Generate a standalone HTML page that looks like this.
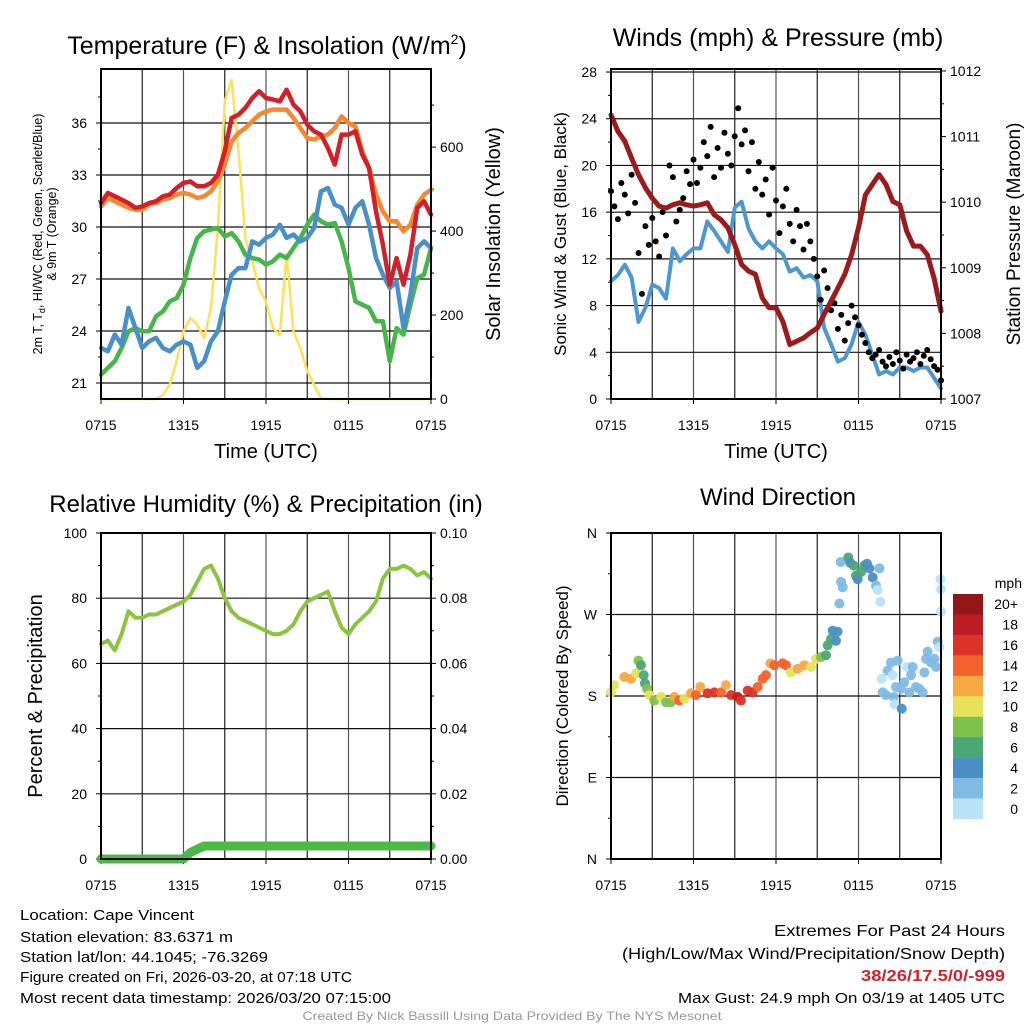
<!DOCTYPE html>
<html><head><meta charset="utf-8"><style>
html,body{margin:0;padding:0;background:#fff;width:1024px;height:1024px;overflow:hidden}
svg{display:block;font-family:"Liberation Sans",Arial,sans-serif}
</style></head><body>
<svg id="c" width="1024" height="1024" viewBox="0 0 1024 1024" xmlns="http://www.w3.org/2000/svg">
<g font-size="24" text-anchor="middle">
<text x="267" y="54" font-size="25">Temperature (F) &amp; Insolation (W/m<tspan font-size="14" dy="-10">2</tspan><tspan dy="10">)</tspan></text>
<text x="778" y="46" font-size="25">Winds (mph) &amp; Pressure (mb)</text>
<text x="266" y="512">Relative Humidity (%) &amp; Precipitation (in)</text>
<text x="778" y="505">Wind Direction</text>
</g>
<g font-size="20" text-anchor="middle">
<text x="266" y="458">Time (UTC)</text>
<text x="776" y="458">Time (UTC)</text>
</g>
<text transform="translate(42,234) rotate(-90)" font-size="12.5" text-anchor="middle">2m T, T<tspan font-size="9" dy="3">d</tspan><tspan dy="-3">, HI/WC (Red, Green, Scarlet/Blue)</tspan></text>
<text transform="translate(56,234) rotate(-90)" font-size="12.5" text-anchor="middle">&amp; 9m T (Orange)</text>
<text transform="translate(500,234) rotate(-90)" font-size="20" text-anchor="middle">Solar Insolation (Yellow)</text>
<text transform="translate(566,234) rotate(-90)" font-size="17" text-anchor="middle">Sonic Wind &amp; Gust (Blue, Black)</text>
<text transform="translate(1020,234) rotate(-90)" font-size="19" text-anchor="middle">Station Pressure (Maroon)</text>
<text transform="translate(42,696) rotate(-90)" font-size="20" text-anchor="middle">Percent &amp; Precipitation</text>
<text transform="translate(568,696) rotate(-90)" font-size="17" text-anchor="middle">Direction (Colored By Speed)</text>
<g font-size="15">
<text x="20" y="920" textLength="174" lengthAdjust="spacingAndGlyphs">Location: Cape Vincent</text>
<text x="20" y="942" textLength="213" lengthAdjust="spacingAndGlyphs">Station elevation: 83.6371 m</text>
<text x="20" y="962" textLength="248" lengthAdjust="spacingAndGlyphs">Station lat/lon: 44.1045; -76.3269</text>
<text x="20" y="982" textLength="332" lengthAdjust="spacingAndGlyphs">Figure created on Fri, 2026-03-20, at 07:18 UTC</text>
<text x="20" y="1003" textLength="371" lengthAdjust="spacingAndGlyphs">Most recent data timestamp: 2026/03/20 07:15:00</text>
</g>
<g font-size="16" text-anchor="end">
<text x="1005" y="936" textLength="231" lengthAdjust="spacingAndGlyphs">Extremes For Past 24 Hours</text>
<text x="1005" y="959" textLength="383" lengthAdjust="spacingAndGlyphs">(High/Low/Max Wind/Precipitation/Snow Depth)</text>
<text x="1005" y="981" font-weight="bold" fill="#d0222a" textLength="144" lengthAdjust="spacingAndGlyphs">38/26/17.5/0/-999</text>
<text x="1005" y="1003" font-size="15" textLength="327" lengthAdjust="spacingAndGlyphs">Max Gust: 24.9 mph On 03/19 at 1405 UTC</text>
</g>
<text x="512" y="1020" font-size="12" fill="#999" text-anchor="middle" textLength="419" lengthAdjust="spacingAndGlyphs">Created By Nick Bassill Using Data Provided By The NYS Mesonet</text>
</svg>
<script>
// ---- data (half-hourly from 0715 UTC, 49 points) ----
const xTickLabels = ["0715","1315","1915","0115","0715"];
const tempRed = [31.38,31.96,31.77,31.58,31.38,31.1,31.19,31.38,31.48,31.77,31.87,32.25,32.54,32.63,32.35,32.35,32.54,33.02,34.37,36.29,36.48,36.87,37.44,37.83,37.44,37.35,37.25,37.92,37.06,36.67,35.9,35.52,35.33,34.56,33.6,35.33,35.33,35.52,34.17,33.4,30.9,28.98,26.67,28.21,26.67,28.4,31.1,31.48,30.71];
const temp9m = [31.19,31.67,31.48,31.29,31.1,31.0,31.0,31.29,31.38,31.58,31.67,31.87,31.96,31.87,31.67,31.77,32.06,32.63,33.6,34.94,35.42,35.71,36.1,36.48,36.67,36.77,36.77,36.77,36.29,35.71,35.13,35.04,35.23,35.33,35.71,36.38,36.0,35.81,34.37,33.4,31.87,30.9,30.33,30.33,29.75,30.13,31.29,31.87,32.15];
const dewpoint = [21.48,21.87,22.25,23.02,23.98,24.17,23.98,23.98,24.85,25.13,25.71,25.9,26.67,28.21,29.37,29.75,29.85,29.94,29.46,29.65,29.17,28.4,28.21,28.12,27.83,28.02,28.4,28.21,28.79,29.37,30.13,30.71,30.33,30.13,30.23,29.17,27.63,25.71,25.52,25.33,24.56,24.56,22.25,24.17,23.79,25.52,27.06,27.25,28.79];
const windChill = [23.02,22.83,23.79,23.21,25.33,24.17,23.02,23.4,23.6,23.02,22.83,23.21,23.4,23.21,21.87,22.25,23.4,23.98,25.71,27.25,27.63,27.63,29.17,28.98,29.37,29.56,30.13,29.37,29.56,29.17,29.37,29.94,32.06,32.25,31.29,31.1,30.13,31.1,31.48,30.13,28.21,27.25,26.48,26.87,24.17,26.1,28.79,29.17,28.79];
const solar = [0,0,0,0,0,0,0,0,0,10,34,90,161,193,177,145,217,407,709,760,590,383,328,264,232,169,153,344,161,121,66,34,2,0,0,0,0,0,0,0,0,0,0,0,0,0,0,0,0];
const tempTicks = [21,24,27,30,33,36];
const solarTicks = [0,200,400,600];
const windSpeed = [10.1,10.6,11.5,10.4,6.6,7.8,9.8,9.5,8.6,12.9,11.8,12.4,12.9,12.9,15.2,14.4,13.5,12.6,16.4,16.9,14.6,13.5,12.9,13.5,12.9,12.4,10.9,11.2,10.4,10.6,10.1,6.1,4.7,3.2,3.5,4.7,6.6,5.5,3.8,2.1,2.4,2.1,2.7,2.7,2.4,2.7,2.7,1.8,0.9];
const pressure = [1011.33,1011.08,1010.93,1010.67,1010.42,1010.22,1010.06,1009.94,1009.91,1009.96,1009.99,1009.96,1009.94,1009.96,1009.99,1009.81,1009.73,1009.61,1009.35,1009.05,1008.95,1008.9,1008.54,1008.39,1008.39,1008.18,1007.83,1007.88,1007.93,1008.01,1008.08,1008.29,1008.49,1008.69,1008.9,1009.2,1009.61,1010.11,1010.27,1010.42,1010.27,1010.01,1009.96,1009.56,1009.33,1009.33,1009.2,1008.84,1008.34];
// gusts every 15 minutes (97 points)
const gusts = [17.8,16.5,15.4,18.5,17.5,15.9,19.2,16.8,12.5,9.0,14.8,13.2,15.5,13.5,12.2,16.0,14.0,20.0,19.0,15.2,16.2,17.2,19.5,18.4,20.5,18.5,19.8,22.0,20.8,23.3,19.0,21.5,19.8,22.8,21.0,20.0,22.5,24.9,21.8,23.0,19.5,22.0,18.0,20.3,17.5,18.8,15.8,19.8,17.0,14.2,16.5,18.0,15.0,13.5,16.2,14.8,12.8,15.0,13.5,12.0,10.5,8.5,11.0,9.5,7.6,8.2,6.0,7.2,5.0,6.5,8.0,7.0,6.3,5.5,4.8,4.0,3.5,3.8,4.2,3.2,2.8,3.6,3.0,4.0,3.3,2.6,3.8,3.2,3.5,4.0,3.0,3.7,4.2,3.4,2.8,2.5,1.6];
const windTicks = [0,4,8,12,16,20,24,28];
const pressureTicks = [1007,1008,1009,1010,1011,1012];
const rh = [66,67,64,69,76,74,74,75,75,76,77,78,79,81,85,89,90,86,80,76,74,73,72,71,70,69,69,70,72,76,79,80,81,82,76,71,69,72,74,76,79,86,89,89,90,89,87,88,86];
const precip = [0,0,0,0,0,0,0,0,0,0,0,0,0,0.002,0.003,0.004,0.004,0.004,0.004,0.004,0.004,0.004,0.004,0.004,0.004,0.004,0.004,0.004,0.004,0.004,0.004,0.004,0.004,0.004,0.004,0.004,0.004,0.004,0.004,0.004,0.004,0.004,0.004,0.004,0.004,0.004,0.004,0.004,0.004];
const rhTicks = [0,20,40,60,80,100];
const precipTicks = ["0.00","0.02","0.04","0.06","0.08","0.10"];
// wind direction observations
const dirHours = [0,0.24,0.97,1.45,1.82,1.99,2.18,2.38,2.47,2.62,2.79,3.15,3.64,4.0,4.36,4.61,4.97,5.33,5.82,6.18,6.5,7.03,7.52,8.0,8.36,8.73,9.21,9.45,9.94,10.3,10.67,11.03,11.27,11.59,11.88,12.48,12.73,13.09,13.58,14.06,14.55,14.91,15.27,15.64,15.76,16.0,16.12,16.48,16.36,16.61,16.73,16.85,16.7,17.26,17.41,17.65,17.82,17.94,18.18,18.42,18.62,18.79,19.03,19.27,19.39,19.52,19.59,19.68,19.76,20.0,20.12,20.36,20.48,20.56,20.61,20.73,20.85,21.09,21.14,21.33,21.53,21.7,21.82,21.94,22.18,22.42,22.67,22.79,22.91,23.03,23.27,23.52,23.64,23.76,23.88,23.95,24.0,24.0];
const dirDeg = [184,192,201,199,205,219,214,203,194,188,181,175,179,173,173,179,175,177,183,181,190,183,184,184,192,181,179,175,186,184,190,199,203,216,214,216,214,206,210,214,212,221,223,225,236,243,252,251,241,282,306,300,328,333,327,324,313,309,317,324,326,321,311,302,297,321,284,199,184,181,208,217,203,179,171,190,219,188,166,195,212,184,203,212,190,188,184,206,221,229,217,221,212,240,234,309,298,273];
const dirSpeed = [11,11,13,13,11,9,7,7,7,9,11,9,11,9,9,13,15,11,13,15,13,17,17,15,13,17,19,17,17,17,15,15,15,13,15,15,15,11,13,13,11,11,9,7,7,7,5,5,5,3,3,3,3,7,5,7,7,5,7,7,5,5,5,3,1,3,1,1,3,3,3,3,1,3,1,3,3,3,5,3,1,3,3,3,3,3,3,3,3,3,3,3,3,3,1,1,1,1];
const speedBinLabels = ["20+","18","16","14","12","10","8","6","4","2","0"];
const speedBinColors = ["#931619","#bc1c24","#dd3228","#f2622b","#f7a843","#e8e15a","#7cc24d","#4aa873","#4a8fc4","#80bbe5","#b9e4f8"];
const dirTicks = ["N","E","S","W","N"];

const NS="http://www.w3.org/2000/svg";
const svg=document.getElementById('c');
function mk(tag,attrs,parent){const e=document.createElementNS(NS,tag);for(const k in attrs)e.setAttribute(k,attrs[k]);(parent||svg).appendChild(e);return e;}
function panel(x0,x1,y0,y1){return {x0,x1,y0,y1,xs:h=>x0+h/24*(x1-x0)};}
function lin(vmin,vmax,y0,y1){return v=>y1-(v-vmin)/(vmax-vmin)*(y1-y0);}
const P1=panel(101,431,69,399), P2=panel(611,941,69,399), P3=panel(101,431,533,859), P4=panel(611,941,533,859);
const yT=lin(20.077,39.115,69,399), yS=lin(0,786,69,399);
const yW=lin(0,28.26,69,399), yP=lin(1007,1012.03,69,399);
const yR=lin(0,100,533,859), yPr=lin(0,0.1,533,859);
const yD=lin(0,360,533,859);

function frame(P,name){
  const g=mk('g',{});
  
  
  for(let h=3;h<24;h+=3){const x=P.xs(h);
    const l=mk('line',{x1:x,x2:x,y1:P.y0,y2:P.y1,stroke:(h%6===0)?'#555':'#222','stroke-width':1.2},g);
    
    }
  xTickLabels.forEach((lab,i)=>{const x=P.xs(i*6);
    mk('line',{x1:x,x2:x,y1:P.y1,y2:P.y1+5,stroke:'#000','stroke-width':1},g);
    const t=mk('text',{x:x,y:P.y1+31,'font-size':14,'text-anchor':'middle'},g);t.textContent=lab;
    
    });
  return g;
}
function hgrid(P,g,ys,vals,labels,side,grid){
  vals.forEach((v,i)=>{const y=ys(v);
    if(grid&&y>P.y0+1&&y<P.y1-1){const l=mk('line',{x1:P.x0,x2:P.x1,y1:y,y2:y,stroke:'#111','stroke-width':1.2},g);
      
      }
    const lx=side==='left'?P.x0-14:P.x1+9;
    mk('line',{x1:side==='left'?P.x0-5:P.x1,x2:side==='left'?P.x0:P.x1+5,y1:y,y2:y,stroke:'#000'},g);
    const t=mk('text',{x:lx,y:y+5,'font-size':14,'text-anchor':side==='left'?'end':'start'},g);t.textContent=labels?labels[i]:v;
    
    });
}
function minor(P,g,ys,from,to,step,side){
  for(let v=from;v<=to+1e-9;v+=step){const y=ys(v);if(y<P.y0||y>P.y1)continue;
    mk('line',{x1:side==='left'?P.x0-3:P.x1,x2:side==='left'?P.x0:P.x1+3,y1:y,y2:y,stroke:'#000'},g);}
}
function line(P,arr,ys,color,w,name,step){
  const st=step||0.5;
  const pts=arr.map((v,i)=>P.xs(i*st).toFixed(1)+','+ys(v).toFixed(1)).join(' ');
  const p=mk('polyline',{points:pts,fill:'none',stroke:color,'stroke-width':w,'stroke-linejoin':'round','stroke-linecap':'round'});
  
  
  return p;
}
function box(P,name){const r=mk('rect',{x:P.x0,y:P.y0,width:P.x1-P.x0,height:P.y1-P.y0,fill:'none',stroke:'#000','stroke-width':2});
  
  }

// Panel 1
let g=frame(P1,'temp');
hgrid(P1,g,yT,tempTicks,null,'left',true);
minor(P1,g,yT,22.5,39,3,'left');
hgrid(P1,g,yS,solarTicks,null,'right',false);
minor(P1,g,yS,100,700,200,'right');
line(P1,solar,yS,'#fde15a',2.5,'solar-line');
line(P1,dewpoint,yT,'#47b649',4.5,'dewpoint-line');
line(P1,windChill,yT,'#4a90c8',4.5,'windchill-line');
line(P1,temp9m,yT,'#f6892f',4.5,'temp-9m-line');
line(P1,tempRed,yT,'#d2202a',4.5,'temp-2m-line');
box(P1,'temp');

// Panel 2
g=frame(P2,'wind');
hgrid(P2,g,yW,windTicks,null,'left',true);
minor(P2,g,yW,2,26,4,'left');
hgrid(P2,g,yP,pressureTicks,null,'right',false);
minor(P2,g,yP,1007.5,1011.5,1,'right');
line(P2,windSpeed,yW,'#4f97d0',4,'wind-speed-line');
const gg=mk('g',{});


gusts.forEach((v,i)=>{const c=mk('circle',{cx:P2.xs(i*0.25),cy:yW(v),r:3,fill:'#000'},gg);
  
  });
line(P2,pressure,yP,'#9b1a1c',5,'pressure-line');
box(P2,'wind');

// Panel 3
g=frame(P3,'rh');
hgrid(P3,g,yR,rhTicks,null,'left',true);
minor(P3,g,yR,10,90,20,'left');
hgrid(P3,g,v=>yPr(parseFloat(v)),precipTicks,precipTicks,'right',false);
minor(P3,g,yPr,0.01,0.09,0.02,'right');
line(P3,rh,yR,'#8cc43f',4,'rh-line');
line(P3,precip,yPr,'#4cb848',9,'precip-line');
box(P3,'rh');

// Panel 4
g=frame(P4,'dir');
hgrid(P4,g,yD,[0,90,180,270,360],dirTicks,'left',true);
minor(P4,g,yD,45,315,90,'left');
function speedColor(s){const idx=Math.min(10,Math.floor(s/2));return speedBinColors[10-idx];}
const dg=mk('g',{});


dirDeg.forEach((d,i)=>{const c=mk('circle',{cx:P4.xs(dirHours[i]),cy:yD(d),r:5,fill:speedColor(dirSpeed[i]),'fill-opacity':0.95},dg);
  
  });
box(P4,'dir');
// colorbar
const cb=mk('g',{});


const cbY0=594, cbH=225/11;
const mt=mk('text',{x:1022,y:588,'font-size':14,'text-anchor':'end'},cb);mt.textContent='mph';


speedBinColors.forEach((c,i)=>{const r=mk('rect',{x:953,y:cbY0+i*cbH,width:30,height:cbH+0.3,fill:c},cb);
  
  
  const t=mk('text',{x:1018,y:cbY0+i*cbH+cbH/2+5,'font-size':14,'text-anchor':'end'},cb);t.textContent=speedBinLabels[i];
  
  });
</script>
</body></html>
